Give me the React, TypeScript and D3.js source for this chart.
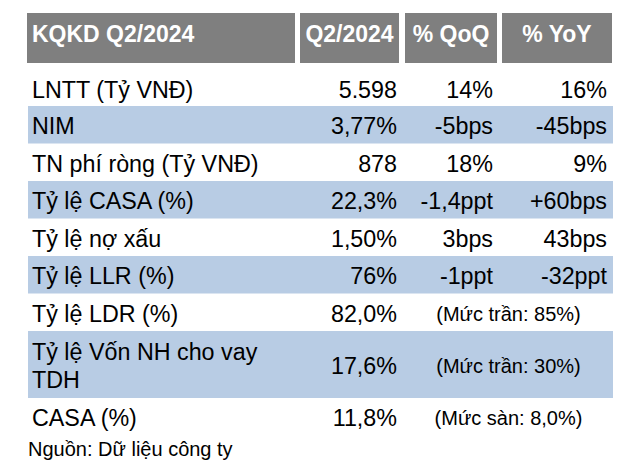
import React from 'react';
import * as d3 from 'd3';

// table content
const headers = ['KQKD Q2/2024', 'Q2/2024', '% QoQ', '% YoY'];
const labels = [
  ['LNTT (Tỷ VNĐ)'],
  ['NIM'],
  ['TN phí ròng (Tỷ VNĐ)'],
  ['Tỷ lệ CASA (%)'],
  ['Tỷ lệ nợ xấu'],
  ['Tỷ lệ LLR (%)'],
  ['Tỷ lệ LDR (%)'],
  ['Tỷ lệ Vốn NH cho vay', 'TDH'],
  ['CASA (%)'],
];
const q2Values = ['5.598', '3,77%', '878', '22,3%', '1,50%', '76%', '82,0%', '17,6%', '11,8%'];
const qoqValues = ['14%', '-5bps', '18%', '-1,4ppt', '3bps', '-1ppt', null, null, null];
const yoyValues = ['16%', '-45bps', '9%', '+60bps', '43bps', '-32ppt', null, null, null];
const notes = [null, null, null, null, null, null, '(Mức trần: 85%)', '(Mức trần: 30%)', '(Mức sàn: 8,0%)'];
const source = 'Nguồn: Dữ liệu công ty';

const FONT = "'Liberation Sans', Arial, sans-serif";
const HEADER_BG = '#7f7f7f';
const BAND_BG = '#b8cce4';
const BODY_SIZE = 23.3;

const App = () => {
  const width = 639;
  const height = 466;

  // column edges of the header cells
  const colEdges: [number, number][] = [
    [27, 295],
    [300, 399],
    [405, 497],
    [502, 612],
  ];
  const headerTop = 13;
  const headerH = 50;

  // row heights follow the number of text lines
  const baseRow = 37.5;
  const extraLine = 29.5;
  const rowH = labels.map(l => baseRow + (l.length - 1) * extraLine);
  const bodyTop = 68.5;
  const rowY = d3.scaleOrdinal<number, number>()
    .domain(d3.range(labels.length))
    .range(rowH.map((h, i) => bodyTop + d3.sum(rowH.slice(0, i))));

  const bandX0 = 28;
  const bandX1 = 613;
  const labelX = 32;
  const lineGap = 28;

  const valueRight = [397, 493, 607];
  const noteCenter = (colEdges[2][0] + colEdges[3][1]) / 2;

  return (
    <svg width={width} height={height} style={{ position: 'absolute', left: 0, top: 0 }}>
      <rect width={width} height={height} fill="#fff" />

      {/* header */}
      {headers.map((h, i) => {
        const [x0, x1] = colEdges[i];
        return (
          <g key={h}>
            <rect x={x0} y={headerTop} width={x1 - x0} height={headerH} fill={HEADER_BG} />
            <text
              x={i === 0 ? labelX : (x0 + x1) / 2}
              y={headerTop + 29}
              textAnchor={i === 0 ? 'start' : 'middle'}
              fill="#fff"
              fontFamily={FONT}
              fontWeight="bold"
              fontSize={23}
            >
              {h}
            </text>
          </g>
        );
      })}

      {/* body rows */}
      {labels.map((lines, i) => {
        const y0 = rowY(i);
        const h = rowH[i];
        const cy = y0 + h / 2;
        const base = cy + 9.5 + (i === 0 ? 1.5 : 0);
        return (
          <g key={i}>
            {i % 2 === 1 && (
              <rect x={bandX0} y={y0} width={bandX1 - bandX0} height={h} fill={BAND_BG} />
            )}
            {lines.map((t, j) => (
              <text
                key={j}
                x={labelX}
                y={base - ((lines.length - 1) * lineGap) / 2 + j * lineGap}
                fontFamily={FONT}
                fontSize={BODY_SIZE}
                fill="#000"
              >
                {t}
              </text>
            ))}
            <text x={valueRight[0]} y={base} textAnchor="end" fontFamily={FONT} fontSize={BODY_SIZE}>
              {q2Values[i]}
            </text>
            {qoqValues[i] && (
              <text x={valueRight[1]} y={base} textAnchor="end" fontFamily={FONT} fontSize={BODY_SIZE}>
                {qoqValues[i]}
              </text>
            )}
            {yoyValues[i] && (
              <text x={valueRight[2]} y={base} textAnchor="end" fontFamily={FONT} fontSize={BODY_SIZE}>
                {yoyValues[i]}
              </text>
            )}
            {notes[i] && (
              <text x={noteCenter} y={base - 1} textAnchor="middle" fontFamily={FONT} fontSize={20}>
                {notes[i]}
              </text>
            )}
          </g>
        );
      })}

      <text x={28} y={455.5} fontFamily={FONT} fontSize={20} fill="#000">
        {source}
      </text>
    </svg>
  );
};

export default App;
